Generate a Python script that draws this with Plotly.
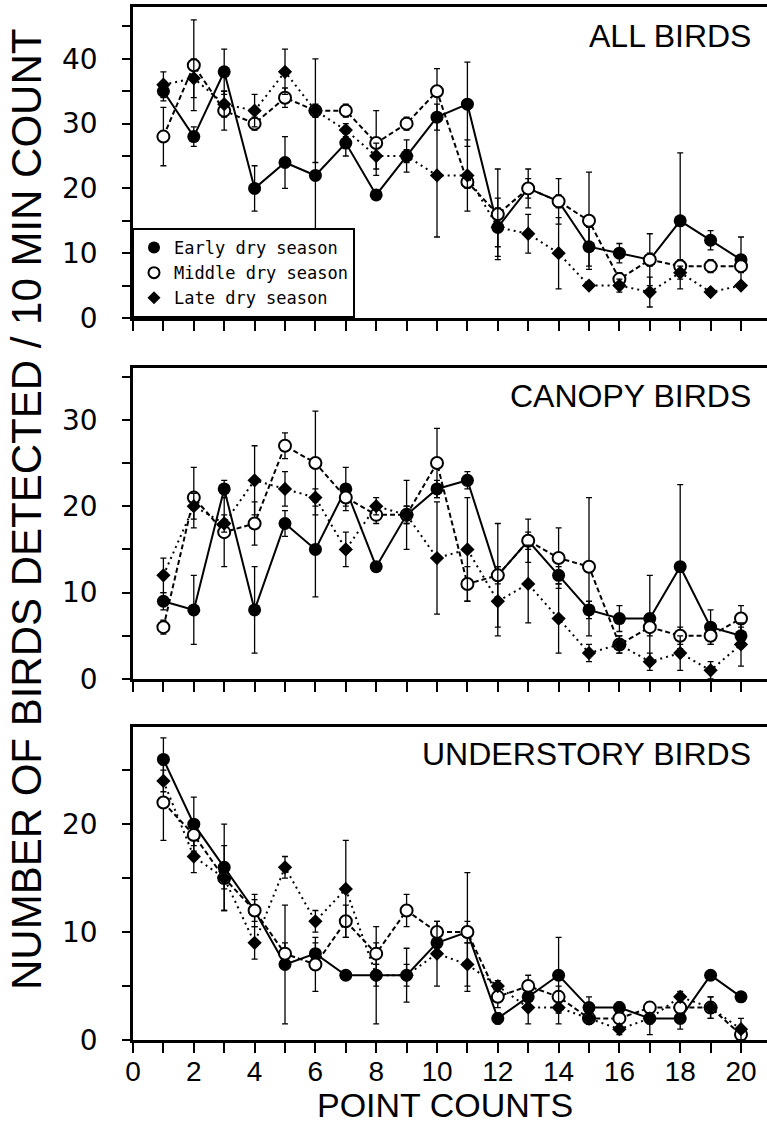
import plotly.graph_objects as go

points = list(range(1, 21))

# ALL BIRDS
all_early = [35, 28, 38, 20, 24, 22, 27, 19, 25, 31, 33, 14, 20, 18, 11, 10, 9, 15, 12, 9]
all_early_err = [1.5, 1.5, 3.5, 3.5, 4, 9, 2, 0.5, 2.5, 2, 6.5, 4.5, 3, 3.5, 3, 1.5, 4, 10.5, 1.5, 3.5]
all_middle = [28, 39, 32, 30, 34, 32, 32, 27, 30, 35, 21, 16, 20, 18, 15, 6, 9, 8, 8, 8]
all_middle_err = [4.5, 7, 3, 1, 1.5, 8, 1, 5, 1, 3.5, 1, 7, 1.5, 1, 7.5, 1, 1, 1, 1, 1]
all_late = [36, 37, 33, 32, 38, 32, 29, 25, 25, 22, 22, 14, 13, 10, 5, 5, 4, 7, 4, 5]
all_late_err = [2, 3, 2, 2.5, 3.5, 1, 1, 2, 1, 9.5, 5.5, 3, 3, 5.5, 0.5, 1, 2.3, 1, 0.5, 0.5]

# CANOPY BIRDS
can_early = [9, 8, 22, 8, 18, 15, 22, 13, 19, 22, 23, 12, 16, 12, 8, 7, 7, 13, 6, 5]
can_early_err = [1, 4, 1, 5, 1.5, 5.5, 2.5, 0.5, 4, 1, 1, 6, 2.5, 1, 1, 1.5, 5, 9.5, 2, 1]
can_middle = [6, 21, 17, 18, 27, 25, 21, 19, 19, 25, 11, 12, 16, 14, 13, 4, 6, 5, 5, 7]
can_middle_err = [0.8, 3.5, 4, 2.5, 1.5, 6, 1, 1, 1, 4, 2, 1, 1, 3.5, 8, 1, 1, 1, 1, 1.5]
can_late = [12, 20, 18, 23, 22, 21, 15, 20, 19, 14, 15, 9, 11, 7, 3, 4, 2, 3, 1, 4]
can_late_err = [2, 1.5, 1, 4, 2, 1, 2, 1, 1, 6.5, 6, 4, 4.5, 4, 1, 1, 1, 2, 1, 2.5]

# UNDERSTORY BIRDS
und_early = [26, 20, 16, 12, 7, 8, 6, 6, 6, 9, 10, 2, 4, 6, 3, 3, 2, 2, 6, 4]
und_early_err = [2, 2.5, 4, 1.5, 5.5, 1, 0, 4.5, 2.5, 1, 5.5, 0.5, 1, 3.5, 1, 0.5, 1.5, 1, 0, 0.3]
und_middle = [22, 19, 15, 12, 8, 7, 11, 8, 12, 10, 10, 4, 5, 4, 2, 2, 3, 3, 3, 0.5]
und_middle_err = [3.5, 1, 3, 1, 1, 2.5, 1.5, 1, 1.5, 1, 1, 1, 1, 1, 0.5, 1, 0.5, 1, 1, 0.5]
und_late = [24, 17, 15, 9, 16, 11, 14, 6, 6, 8, 7, 5, 3, 3, 2, 1, 2, 4, 3, 1]
und_late_err = [1, 1.5, 1, 1.5, 1, 1, 4.5, 1, 1, 3, 2, 0.5, 1.5, 1.5, 0.5, 0.5, 0.5, 0.5, 1, 1]

panels = [
    ("ALL BIRDS", all_early, all_early_err, all_middle, all_middle_err, all_late, all_late_err, 48, [0, 10, 20, 30, 40]),
    ("CANOPY BIRDS", can_early, can_early_err, can_middle, can_middle_err, can_late, can_late_err, 36, [0, 10, 20, 30]),
    ("UNDERSTORY BIRDS", und_early, und_early_err, und_middle, und_middle_err, und_late, und_late_err, 29, [0, 10, 20]),
]

x_ticks = list(range(0, 21))
x_ticktext = [str(v) if v % 2 == 0 else "" for v in x_ticks]

W, H = 767, 1133
X0, X1, YTOP, YBOT = 133, 767, 7, 1040     # plot area in page pixels
L, R, T, B = X0, W - X1, YTOP, H - YBOT
plot_h = YBOT - YTOP


def py(pix):
    return min(1.0, (YBOT - pix) / plot_h)


def px(pix):
    return (pix - X0) / (X1 - X0)


domains = [(py(318), py(7)), (py(679), py(368)), (py(1040), py(727))]
title_y = [36, 396, 754]

fig = go.Figure()

series_style = [
    dict(name="Early dry season", dash="solid", symbol="circle", size=13, color="black", lw=0),
    dict(name="Middle dry season", dash="5px,3px", symbol="circle", size=12, color="white", lw=2),
    dict(name="Late dry season", dash="2px,4px", symbol="diamond", size=11, color="black", lw=0),
]

for i, (title, e, ee, m, me, l, le, ymax, yt) in enumerate(panels):
    xa = "x" if i == 0 else f"x{i+1}"
    ya = "y" if i == 0 else f"y{i+1}"
    for st, vals, errs in zip(series_style, [e, m, l], [ee, me, le]):
        fig.add_trace(go.Scatter(
            x=points, y=vals, xaxis=xa, yaxis=ya,
            mode="lines+markers",
            line=dict(color="black", width=2, dash=st["dash"]),
            marker=dict(symbol=st["symbol"], size=st["size"], color=st["color"],
                        line=dict(color="black", width=st["lw"])),
            error_y=dict(type="data", array=errs, visible=True, color="black",
                         thickness=1.3, width=3),
            showlegend=False,
        ))
    axname = "xaxis" if i == 0 else f"xaxis{i+1}"
    ayname = "yaxis" if i == 0 else f"yaxis{i+1}"
    fig.layout[axname] = dict(
        domain=[0, 1], anchor=ya, range=[0, (X1 - X0) / 30.4],
        showline=True, linecolor="black", linewidth=2.5, mirror=True,
        ticks="outside", ticklen=10, tickwidth=2, tickcolor="black",
        tickvals=x_ticks, ticktext=x_ticktext,
        showticklabels=(i == 2), showgrid=False, zeroline=False,
        tickfont=dict(family="Liberation Sans, Arial, sans-serif", size=28, color="black"),
        ticklabelstandoff=-5,
    )
    fig.layout[ayname] = dict(
        domain=list(domains[i]), anchor=xa, range=[0, ymax],
        showline=True, linecolor="black", linewidth=2.5, mirror=False,
        ticks="outside", ticklen=8, tickwidth=2, tickcolor="black",
        tickvals=yt, showgrid=False, zeroline=False,
        minor=dict(dtick=5, ticks="outside", ticklen=8, tickwidth=2, tickcolor="black", showgrid=False),
        tickfont=dict(family="DejaVu Sans, sans-serif", size=28, color="black"),
        ticklabelstandoff=19,
    )
    fig.add_annotation(
        text=title, xref="paper", yref="paper", x=px(753), y=py(title_y[i]),
        xanchor="right", yanchor="middle", showarrow=False,
        font=dict(family="Liberation Sans, Arial, sans-serif", size=32, color="black"),
    )

# legend entries
for st in series_style:
    fig.add_trace(go.Scatter(
        x=[None], y=[None], mode="markers", name=st["name"],
        marker=dict(symbol=st["symbol"], size=st["size"] - 1, color=st["color"],
                    line=dict(color="black", width=st["lw"])),
        showlegend=True,
    ))

fig.add_annotation(
    text="NUMBER OF BIRDS DETECTED / 10 MIN COUNT", xref="paper", yref="paper",
    x=px(26), y=py(510), xanchor="center", yanchor="middle", textangle=-90,
    showarrow=False, font=dict(family="Liberation Sans, Arial, sans-serif", size=42, color="black"),
)
fig.add_annotation(
    text="POINT COUNTS", xref="paper", yref="paper",
    x=px(445), y=py(1105), xanchor="center", yanchor="middle",
    showarrow=False, font=dict(family="Liberation Sans, Arial, sans-serif", size=34, color="black"),
)

fig.update_layout(
    width=W, height=H,
    margin=dict(l=L, r=R, t=T, b=B, pad=0),
    paper_bgcolor="white", plot_bgcolor="white",
    legend=dict(
        x=px(132), y=py(318), xanchor="left", yanchor="bottom",
        bgcolor="white", bordercolor="black", borderwidth=2,
        font=dict(family="DejaVu Sans Mono, monospace", size=17, color="black"),
        tracegroupgap=0, itemwidth=30,
    ),
)

fig.write_html("out.html", config={"displayModeBar": False},
               post_script="document.body.style.margin='0px';")
